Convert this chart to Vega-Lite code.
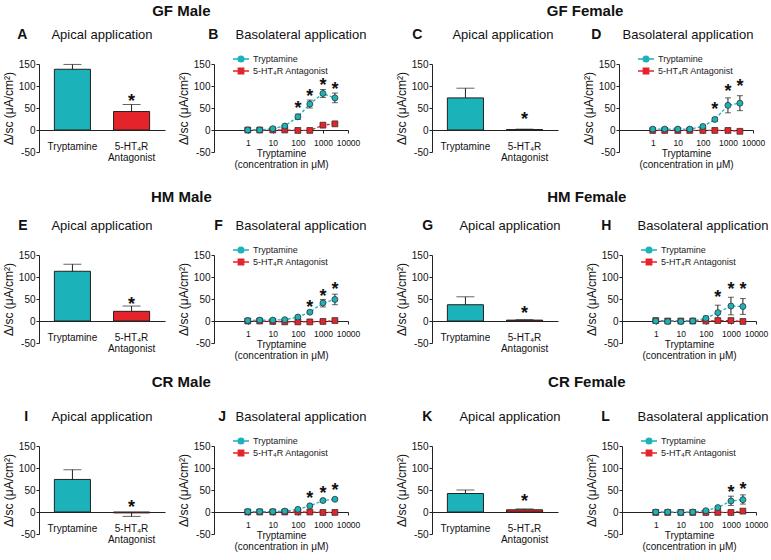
{
"$schema": "https://vega.github.io/schema/vega-lite/v6.json",
"padding": {"left": 2, "top": 4, "right": 0, "bottom": 0},
"config": {
 "font": "Liberation Sans",
 "view": {"stroke": null},
 "axis": {"grid": false, "domainColor": "#222", "tickColor": "#222", "labelColor": "#111", "titleColor": "#111", "labelFontSize": 10, "titleFontSize": 12, "titleFontWeight": "normal"},
 "axisY": {"labelOverlap": false, "labelSeparation": 0},
 "title": {"color": "#111"}
},
"datasets": {
 "bars": [
  {"panel": "A", "cat": "Tryptamine", "value": 138, "eb": 149, "sig": false},
  {"panel": "A", "cat": "5-HT₄R Antagonist", "value": 42, "eb": 58, "sig": true, "star": 74},
  {"panel": "C", "cat": "Tryptamine", "value": 73, "eb": 95, "sig": false},
  {"panel": "C", "cat": "5-HT₄R Antagonist", "value": 1, "eb": 2, "sig": true, "star": 35},
  {"panel": "E", "cat": "Tryptamine", "value": 113, "eb": 129, "sig": false},
  {"panel": "E", "cat": "5-HT₄R Antagonist", "value": 22, "eb": 34, "sig": true, "star": 47},
  {"panel": "G", "cat": "Tryptamine", "value": 37, "eb": 55, "sig": false},
  {"panel": "G", "cat": "5-HT₄R Antagonist", "value": 2, "eb": 3, "sig": true, "star": 27},
  {"panel": "I", "cat": "Tryptamine", "value": 74, "eb": 96, "sig": false},
  {"panel": "I", "cat": "5-HT₄R Antagonist", "value": -2, "eb": -10, "sig": true, "star": 20},
  {"panel": "K", "cat": "Tryptamine", "value": 42, "eb": 50, "sig": false},
  {"panel": "K", "cat": "5-HT₄R Antagonist", "value": 5, "eb": 7, "sig": true, "star": 35}
 ],
 "lines": [
  {"panel": "B", "series": "5-HT₄R Antagonist", "conc": 1, "value": 0, "lo": 0, "hi": 0},
  {"panel": "B", "series": "5-HT₄R Antagonist", "conc": 3, "value": 0, "lo": 0, "hi": 0},
  {"panel": "B", "series": "5-HT₄R Antagonist", "conc": 10, "value": 0, "lo": 0, "hi": 0},
  {"panel": "B", "series": "5-HT₄R Antagonist", "conc": 30, "value": 0, "lo": 0, "hi": 0},
  {"panel": "B", "series": "5-HT₄R Antagonist", "conc": 100, "value": -1, "lo": -1, "hi": -1},
  {"panel": "B", "series": "5-HT₄R Antagonist", "conc": 300, "value": -1, "lo": -1, "hi": -1},
  {"panel": "B", "series": "5-HT₄R Antagonist", "conc": 1000, "value": 11, "lo": 7, "hi": 15},
  {"panel": "B", "series": "5-HT₄R Antagonist", "conc": 3000, "value": 14, "lo": 10, "hi": 18},
  {"panel": "B", "series": "Tryptamine", "conc": 1, "value": 0, "lo": 0, "hi": 0},
  {"panel": "B", "series": "Tryptamine", "conc": 3, "value": 0, "lo": 0, "hi": 0},
  {"panel": "B", "series": "Tryptamine", "conc": 10, "value": 3, "lo": 3, "hi": 3},
  {"panel": "B", "series": "Tryptamine", "conc": 30, "value": 9, "lo": 9, "hi": 9},
  {"panel": "B", "series": "Tryptamine", "conc": 100, "value": 30, "lo": 24, "hi": 36, "sig": true, "star": 58},
  {"panel": "B", "series": "Tryptamine", "conc": 300, "value": 59, "lo": 50, "hi": 68, "sig": true, "star": 87},
  {"panel": "B", "series": "Tryptamine", "conc": 1000, "value": 83, "lo": 74, "hi": 92, "sig": true, "star": 111},
  {"panel": "B", "series": "Tryptamine", "conc": 3000, "value": 73, "lo": 62, "hi": 84, "sig": true, "star": 102},

  {"panel": "D", "series": "5-HT₄R Antagonist", "conc": 1, "value": -1, "lo": -1, "hi": -1},
  {"panel": "D", "series": "5-HT₄R Antagonist", "conc": 3, "value": -1, "lo": -1, "hi": -1},
  {"panel": "D", "series": "5-HT₄R Antagonist", "conc": 10, "value": -1, "lo": -1, "hi": -1},
  {"panel": "D", "series": "5-HT₄R Antagonist", "conc": 30, "value": -1, "lo": -1, "hi": -1},
  {"panel": "D", "series": "5-HT₄R Antagonist", "conc": 100, "value": -1, "lo": -1, "hi": -1},
  {"panel": "D", "series": "5-HT₄R Antagonist", "conc": 300, "value": -1, "lo": -1, "hi": -1},
  {"panel": "D", "series": "5-HT₄R Antagonist", "conc": 1000, "value": -1, "lo": -1, "hi": -1},
  {"panel": "D", "series": "5-HT₄R Antagonist", "conc": 3000, "value": -3, "lo": -3, "hi": -3},
  {"panel": "D", "series": "Tryptamine", "conc": 1, "value": 2, "lo": 2, "hi": 2},
  {"panel": "D", "series": "Tryptamine", "conc": 3, "value": 2, "lo": 2, "hi": 2},
  {"panel": "D", "series": "Tryptamine", "conc": 10, "value": 2, "lo": 2, "hi": 2},
  {"panel": "D", "series": "Tryptamine", "conc": 30, "value": 2, "lo": 2, "hi": 2},
  {"panel": "D", "series": "Tryptamine", "conc": 100, "value": 8, "lo": 5, "hi": 11},
  {"panel": "D", "series": "Tryptamine", "conc": 300, "value": 24, "lo": 20, "hi": 28, "sig": true, "star": 57},
  {"panel": "D", "series": "Tryptamine", "conc": 1000, "value": 56, "lo": 39, "hi": 73, "sig": true, "star": 98},
  {"panel": "D", "series": "Tryptamine", "conc": 3000, "value": 61, "lo": 44, "hi": 78, "sig": true, "star": 108},

  {"panel": "F", "series": "5-HT₄R Antagonist", "conc": 1, "value": 0, "lo": 0, "hi": 0},
  {"panel": "F", "series": "5-HT₄R Antagonist", "conc": 3, "value": 0, "lo": 0, "hi": 0},
  {"panel": "F", "series": "5-HT₄R Antagonist", "conc": 10, "value": -1, "lo": -1, "hi": -1},
  {"panel": "F", "series": "5-HT₄R Antagonist", "conc": 30, "value": -2, "lo": -2, "hi": -2},
  {"panel": "F", "series": "5-HT₄R Antagonist", "conc": 100, "value": -2, "lo": -2, "hi": -2},
  {"panel": "F", "series": "5-HT₄R Antagonist", "conc": 300, "value": -2, "lo": -2, "hi": -2},
  {"panel": "F", "series": "5-HT₄R Antagonist", "conc": 1000, "value": -1, "lo": -1, "hi": -1},
  {"panel": "F", "series": "5-HT₄R Antagonist", "conc": 3000, "value": 1, "lo": 1, "hi": 1},
  {"panel": "F", "series": "Tryptamine", "conc": 1, "value": 1, "lo": 1, "hi": 1},
  {"panel": "F", "series": "Tryptamine", "conc": 3, "value": 2, "lo": 2, "hi": 2},
  {"panel": "F", "series": "Tryptamine", "conc": 10, "value": 2, "lo": 2, "hi": 2},
  {"panel": "F", "series": "Tryptamine", "conc": 30, "value": 3, "lo": 3, "hi": 3},
  {"panel": "F", "series": "Tryptamine", "conc": 100, "value": 9, "lo": 9, "hi": 9},
  {"panel": "F", "series": "Tryptamine", "conc": 300, "value": 20, "lo": 17, "hi": 23, "sig": true, "star": 41},
  {"panel": "F", "series": "Tryptamine", "conc": 1000, "value": 41, "lo": 32, "hi": 49, "sig": true, "star": 65},
  {"panel": "F", "series": "Tryptamine", "conc": 3000, "value": 49, "lo": 37, "hi": 61, "sig": true, "star": 81},

  {"panel": "H", "series": "5-HT₄R Antagonist", "conc": 1, "value": 1, "lo": -2, "hi": 4},
  {"panel": "H", "series": "5-HT₄R Antagonist", "conc": 3, "value": 0, "lo": 0, "hi": 0},
  {"panel": "H", "series": "5-HT₄R Antagonist", "conc": 10, "value": 0, "lo": 0, "hi": 0},
  {"panel": "H", "series": "5-HT₄R Antagonist", "conc": 30, "value": 0, "lo": 0, "hi": 0},
  {"panel": "H", "series": "5-HT₄R Antagonist", "conc": 100, "value": 0, "lo": 0, "hi": 0},
  {"panel": "H", "series": "5-HT₄R Antagonist", "conc": 300, "value": 1, "lo": 1, "hi": 1},
  {"panel": "H", "series": "5-HT₄R Antagonist", "conc": 1000, "value": 1, "lo": 1, "hi": 1},
  {"panel": "H", "series": "5-HT₄R Antagonist", "conc": 3000, "value": -1, "lo": -1, "hi": -1},
  {"panel": "H", "series": "Tryptamine", "conc": 1, "value": 0, "lo": 0, "hi": 0},
  {"panel": "H", "series": "Tryptamine", "conc": 3, "value": -1, "lo": -1, "hi": -1},
  {"panel": "H", "series": "Tryptamine", "conc": 10, "value": -1, "lo": -1, "hi": -1},
  {"panel": "H", "series": "Tryptamine", "conc": 30, "value": 0, "lo": 0, "hi": 0},
  {"panel": "H", "series": "Tryptamine", "conc": 100, "value": 6, "lo": 1, "hi": 11},
  {"panel": "H", "series": "Tryptamine", "conc": 300, "value": 19, "lo": 2, "hi": 36, "sig": true, "star": 64},
  {"panel": "H", "series": "Tryptamine", "conc": 1000, "value": 34, "lo": 14, "hi": 54, "sig": true, "star": 81},
  {"panel": "H", "series": "Tryptamine", "conc": 3000, "value": 33, "lo": 15, "hi": 51, "sig": true, "star": 81},

  {"panel": "J", "series": "5-HT₄R Antagonist", "conc": 1, "value": 0, "lo": 0, "hi": 0},
  {"panel": "J", "series": "5-HT₄R Antagonist", "conc": 3, "value": 0, "lo": 0, "hi": 0},
  {"panel": "J", "series": "5-HT₄R Antagonist", "conc": 10, "value": 0, "lo": 0, "hi": 0},
  {"panel": "J", "series": "5-HT₄R Antagonist", "conc": 30, "value": 0, "lo": 0, "hi": 0},
  {"panel": "J", "series": "5-HT₄R Antagonist", "conc": 100, "value": 0, "lo": 0, "hi": 0},
  {"panel": "J", "series": "5-HT₄R Antagonist", "conc": 300, "value": 0, "lo": 0, "hi": 0},
  {"panel": "J", "series": "5-HT₄R Antagonist", "conc": 1000, "value": -1, "lo": -1, "hi": -1},
  {"panel": "J", "series": "5-HT₄R Antagonist", "conc": 3000, "value": -1, "lo": -1, "hi": -1},
  {"panel": "J", "series": "Tryptamine", "conc": 1, "value": 1, "lo": 1, "hi": 1},
  {"panel": "J", "series": "Tryptamine", "conc": 3, "value": 1, "lo": 1, "hi": 1},
  {"panel": "J", "series": "Tryptamine", "conc": 10, "value": 1, "lo": 1, "hi": 1},
  {"panel": "J", "series": "Tryptamine", "conc": 30, "value": 2, "lo": 2, "hi": 2},
  {"panel": "J", "series": "Tryptamine", "conc": 100, "value": 6, "lo": 6, "hi": 6},
  {"panel": "J", "series": "Tryptamine", "conc": 300, "value": 14, "lo": 12, "hi": 16, "sig": true, "star": 42},
  {"panel": "J", "series": "Tryptamine", "conc": 1000, "value": 26, "lo": 24, "hi": 28, "sig": true, "star": 52},
  {"panel": "J", "series": "Tryptamine", "conc": 3000, "value": 29, "lo": 27, "hi": 31, "sig": true, "star": 60},

  {"panel": "L", "series": "5-HT₄R Antagonist", "conc": 1, "value": -1, "lo": -1, "hi": -1},
  {"panel": "L", "series": "5-HT₄R Antagonist", "conc": 3, "value": -1, "lo": -1, "hi": -1},
  {"panel": "L", "series": "5-HT₄R Antagonist", "conc": 10, "value": -1, "lo": -1, "hi": -1},
  {"panel": "L", "series": "5-HT₄R Antagonist", "conc": 30, "value": -1, "lo": -1, "hi": -1},
  {"panel": "L", "series": "5-HT₄R Antagonist", "conc": 100, "value": -1, "lo": -1, "hi": -1},
  {"panel": "L", "series": "5-HT₄R Antagonist", "conc": 300, "value": -1, "lo": -1, "hi": -1},
  {"panel": "L", "series": "5-HT₄R Antagonist", "conc": 1000, "value": -1, "lo": -1, "hi": -1},
  {"panel": "L", "series": "5-HT₄R Antagonist", "conc": 3000, "value": 2, "lo": 2, "hi": 2},
  {"panel": "L", "series": "Tryptamine", "conc": 1, "value": 0, "lo": 0, "hi": 0},
  {"panel": "L", "series": "Tryptamine", "conc": 3, "value": 0, "lo": 0, "hi": 0},
  {"panel": "L", "series": "Tryptamine", "conc": 10, "value": -1, "lo": -1, "hi": -1},
  {"panel": "L", "series": "Tryptamine", "conc": 30, "value": 0, "lo": 0, "hi": 0},
  {"panel": "L", "series": "Tryptamine", "conc": 100, "value": 3, "lo": 3, "hi": 3},
  {"panel": "L", "series": "Tryptamine", "conc": 300, "value": 10, "lo": 8, "hi": 12},
  {"panel": "L", "series": "Tryptamine", "conc": 1000, "value": 25, "lo": 15, "hi": 36, "sig": true, "star": 55},
  {"panel": "L", "series": "Tryptamine", "conc": 3000, "value": 28, "lo": 18, "hi": 39, "sig": true, "star": 61}
 ]
},
"resolve": {"scale": {"x": "independent", "y": "independent", "color": "independent", "shape": "independent"}, "axis": {"x": "independent", "y": "independent"}, "legend": {"color": "independent", "shape": "independent"}},
"spacing": 20,
"vconcat": [
 {"spacing": 28, "resolve": {"scale": {"x": "independent", "y": "independent", "color": "independent", "shape": "independent"}, "axis": {"x": "independent", "y": "independent"}, "legend": {"color": "independent", "shape": "independent"}},
  "hconcat": [
  {"title": {"text": "GF Male", "fontSize": 15, "fontWeight": "bold", "anchor": "middle", "offset": 9, "dx": -3},
   "spacing": 12, "resolve": {"scale": {"x": "independent", "y": "independent", "color": "independent", "shape": "independent"}, "axis": {"x": "independent", "y": "independent"}, "legend": {"color": "independent", "shape": "independent"}},
   "hconcat": [
    {"title": {"text": "A", "fontSize": 14, "fontWeight": "bold", "anchor": "start", "frame": "bounds", "offset": 0, "dy": 13, "dx": 15},
     "resolve": {"scale": {"x": "independent", "y": "independent", "color": "independent", "shape": "independent"}, "axis": {"x": "independent", "y": "independent"}, "legend": {"color": "independent", "shape": "independent"}},
     "hconcat": [
      {"title": {"text": "Apical application", "fontSize": 13, "fontWeight": "normal", "anchor": "middle", "frame": "group", "offset": 17, "dx": 0},
       "width": 126, "height": 88,
       "data": {"name": "bars"},
       "transform": [{"filter": "datum.panel === 'A'"}],
       "encoding": {"x": {"field": "cat", "type": "nominal", "scale": {"domain": ["Tryptamine", "5-HT₄R Antagonist"], "paddingInner": 0.39, "paddingOuter": 0.26}, "axis": {"title": null, "labelAngle": 0, "ticks": false, "offset": -22, "labelPadding": 11, "labelLineHeight": 11.5, "labelExpr": "datum.value === 'Tryptamine' ? 'Tryptamine' : ['5-HT₄R', 'Antagonist']"}}},
       "layer": [
        {"mark": {"type": "bar", "stroke": "#222", "strokeWidth": 1}, "encoding": {"y": {"field": "value", "type": "quantitative", "title": "Δ/sc (μA/cm²)", "scale": {"domain": [-50, 150], "nice": false, "zero": false}, "axis": {"values": [-50, 0, 50, 100, 150], "tickSize": 3, "labelPadding": 1, "titlePadding": 3, "labelOverlap": false, "labelExpr": "toString(datum.value)"}}, "color": {"field": "cat", "type": "nominal", "scale": {"domain": ["Tryptamine", "5-HT₄R Antagonist"], "range": ["#1bb3b9", "#e5232a"]}, "legend": null}}},
        {"mark": {"type": "rule", "color": "#222", "strokeWidth": 1}, "encoding": {"y": {"field": "value", "type": "quantitative", "title": "Δ/sc (μA/cm²)", "axis": {"values": [-50, 0, 50, 100, 150], "tickSize": 3, "labelPadding": 1, "titlePadding": 3, "labelOverlap": false, "labelExpr": "toString(datum.value)"}}, "y2": {"field": "eb"}}},
        {"mark": {"type": "tick", "orient": "horizontal", "color": "#222", "size": 18, "thickness": 1}, "encoding": {"y": {"field": "eb", "type": "quantitative", "title": "Δ/sc (μA/cm²)", "axis": {"values": [-50, 0, 50, 100, 150], "tickSize": 3, "labelPadding": 1, "titlePadding": 3, "labelOverlap": false, "labelExpr": "toString(datum.value)"}}}},
        {"transform": [{"filter": "datum.sig"}], "mark": {"type": "text", "text": "*", "fontSize": 18, "fontWeight": "bold", "baseline": "alphabetic", "dy": 10, "color": "#111"}, "encoding": {"y": {"field": "star", "type": "quantitative", "title": "Δ/sc (μA/cm²)", "axis": {"values": [-50, 0, 50, 100, 150], "tickSize": 3, "labelPadding": 1, "titlePadding": 3, "labelOverlap": false, "labelExpr": "toString(datum.value)"}}}}
       ]}
     ]},
    {"title": {"text": "B", "fontSize": 14, "fontWeight": "bold", "anchor": "start", "frame": "bounds", "offset": 0, "dy": 13, "dx": 31},
     "resolve": {"scale": {"x": "independent", "y": "independent", "color": "independent", "shape": "independent"}, "axis": {"x": "independent", "y": "independent"}, "legend": {"color": "independent", "shape": "independent"}},
     "hconcat": [
      {"title": {"text": "Basolateral application", "fontSize": 13, "fontWeight": "normal", "anchor": "middle", "frame": "group", "offset": 11, "dx": 20},
       "width": 134, "height": 88,
       "data": {"name": "lines"},
       "transform": [{"filter": "datum.panel === 'B'"}],
       "encoding": {"x": {"field": "conc", "type": "quantitative", "scale": {"type": "log", "domain": [0.045, 10000], "nice": false}, "axis": {"title": ["Tryptamine", "(concentration in μM)"], "values": [1, 10, 100, 1000, 10000], "labelExpr": "toString(datum.value)", "offset": -22, "tickSize": 3, "labelPadding": 5, "labelFontSize": 8.5, "titlePadding": 2, "titleFontSize": 10, "titleLineHeight": 11, "labelFlush": false, "labelOverlap": false}}},
       "layer": [
        {"mark": {"type": "line", "strokeDash": [3, 2], "strokeWidth": 1.3}, "encoding": {"y": {"field": "value", "type": "quantitative", "title": "Δ/sc (μA/cm²)", "scale": {"domain": [-50, 150], "nice": false, "zero": false}, "axis": {"values": [-50, 0, 50, 100, 150], "tickSize": 3, "labelPadding": 1, "titlePadding": 3, "labelOverlap": false, "labelExpr": "toString(datum.value)"}}, "color": {"field": "series", "type": "nominal", "scale": {"domain": ["Tryptamine", "5-HT₄R Antagonist"], "range": ["#1bb3b9", "#e5232a"]}, "legend": {"orient": "none", "legendX": 21, "legendY": -11, "title": null, "padding": 0, "labelFontSize": 9, "labelColor": "#222", "labelOffset": 6, "rowPadding": 0, "symbolSize": 100, "symbolStrokeWidth": 1.3}}}},
        {"mark": {"type": "rule", "color": "#222", "strokeWidth": 1}, "encoding": {"y": {"field": "lo", "type": "quantitative", "title": "Δ/sc (μA/cm²)", "axis": {"values": [-50, 0, 50, 100, 150], "tickSize": 3, "labelPadding": 1, "titlePadding": 3, "labelOverlap": false, "labelExpr": "toString(datum.value)"}}, "y2": {"field": "hi"}}},
        {"mark": {"type": "tick", "orient": "horizontal", "color": "#222", "size": 6, "thickness": 1}, "encoding": {"y": {"field": "lo", "type": "quantitative", "title": "Δ/sc (μA/cm²)", "axis": {"values": [-50, 0, 50, 100, 150], "tickSize": 3, "labelPadding": 1, "titlePadding": 3, "labelOverlap": false, "labelExpr": "toString(datum.value)"}}}},
        {"mark": {"type": "tick", "orient": "horizontal", "color": "#222", "size": 6, "thickness": 1}, "encoding": {"y": {"field": "hi", "type": "quantitative", "title": "Δ/sc (μA/cm²)", "axis": {"values": [-50, 0, 50, 100, 150], "tickSize": 3, "labelPadding": 1, "titlePadding": 3, "labelOverlap": false, "labelExpr": "toString(datum.value)"}}}},
        {"transform": [{"filter": "datum.series !== 'Tryptamine'"}], "mark": {"type": "point", "shape": "square", "filled": true, "size": 34, "stroke": "#333", "strokeWidth": 0.8, "opacity": 1}, "encoding": {"y": {"field": "value", "type": "quantitative", "title": "Δ/sc (μA/cm²)", "axis": {"values": [-50, 0, 50, 100, 150], "tickSize": 3, "labelPadding": 1, "titlePadding": 3, "labelOverlap": false, "labelExpr": "toString(datum.value)"}}, "color": {"field": "series", "type": "nominal", "scale": {"domain": ["Tryptamine", "5-HT₄R Antagonist"], "range": ["#1bb3b9", "#e5232a"]}, "legend": {"orient": "none", "legendX": 21, "legendY": -11, "title": null, "padding": 0, "labelFontSize": 9, "labelColor": "#222", "labelOffset": 6, "rowPadding": 0, "symbolSize": 100, "symbolStrokeWidth": 1.3}}}},
        {"transform": [{"filter": "datum.series === 'Tryptamine'"}], "mark": {"type": "point", "shape": "circle", "filled": true, "size": 36, "stroke": "#333", "strokeWidth": 0.8, "opacity": 1}, "encoding": {"y": {"field": "value", "type": "quantitative", "title": "Δ/sc (μA/cm²)", "axis": {"values": [-50, 0, 50, 100, 150], "tickSize": 3, "labelPadding": 1, "titlePadding": 3, "labelOverlap": false, "labelExpr": "toString(datum.value)"}}, "color": {"field": "series", "type": "nominal", "scale": {"domain": ["Tryptamine", "5-HT₄R Antagonist"], "range": ["#1bb3b9", "#e5232a"]}, "legend": {"orient": "none", "legendX": 21, "legendY": -11, "title": null, "padding": 0, "labelFontSize": 9, "labelColor": "#222", "labelOffset": 6, "rowPadding": 0, "symbolSize": 100, "symbolStrokeWidth": 1.3}}}},
        {"transform": [{"filter": "false"}], "mark": {"type": "point", "filled": true, "opacity": 1}, "encoding": {"y": {"field": "value", "type": "quantitative", "title": "Δ/sc (μA/cm²)", "axis": {"values": [-50, 0, 50, 100, 150], "tickSize": 3, "labelPadding": 1, "titlePadding": 3, "labelOverlap": false, "labelExpr": "toString(datum.value)"}}, "color": {"field": "series", "type": "nominal", "scale": {"domain": ["Tryptamine", "5-HT₄R Antagonist"], "range": ["#1bb3b9", "#e5232a"]}, "legend": {"orient": "none", "legendX": 21, "legendY": -11, "title": null, "padding": 0, "labelFontSize": 9, "labelColor": "#222", "labelOffset": 6, "rowPadding": 0, "symbolSize": 100, "symbolStrokeWidth": 1.3}}, "shape": {"field": "series", "type": "nominal", "scale": {"domain": ["Tryptamine", "5-HT₄R Antagonist"], "range": ["M-1.6,0H-0.58M0.58,0H1.6M-0.58,0A0.58,0.58,0,1,1,0.58,0A0.58,0.58,0,1,1,-0.58,0Z", "M-1.6,0H-0.55M0.55,0H1.6M-0.55,-0.55H0.55V0.55H-0.55Z"]}, "legend": {"orient": "none", "legendX": 21, "legendY": -11, "title": null, "padding": 0, "labelFontSize": 9, "labelColor": "#222", "labelOffset": 6, "rowPadding": 0, "symbolSize": 100, "symbolStrokeWidth": 1.3}}}},
        {"transform": [{"filter": "datum.sig"}], "mark": {"type": "text", "text": "*", "fontSize": 18, "fontWeight": "bold", "baseline": "alphabetic", "dy": 10, "color": "#111"}, "encoding": {"y": {"field": "star", "type": "quantitative", "title": "Δ/sc (μA/cm²)", "axis": {"values": [-50, 0, 50, 100, 150], "tickSize": 3, "labelPadding": 1, "titlePadding": 3, "labelOverlap": false, "labelExpr": "toString(datum.value)"}}}}
       ]}
     ]}
   ]},
  {"title": {"text": "GF Female", "fontSize": 15, "fontWeight": "bold", "anchor": "middle", "offset": 9, "dx": 5},
   "spacing": 24, "resolve": {"scale": {"x": "independent", "y": "independent", "color": "independent", "shape": "independent"}, "axis": {"x": "independent", "y": "independent"}, "legend": {"color": "independent", "shape": "independent"}},
   "hconcat": [
    {"title": {"text": "C", "fontSize": 14, "fontWeight": "bold", "anchor": "start", "frame": "bounds", "offset": 0, "dy": 13, "dx": 17},
     "resolve": {"scale": {"x": "independent", "y": "independent", "color": "independent", "shape": "independent"}, "axis": {"x": "independent", "y": "independent"}, "legend": {"color": "independent", "shape": "independent"}},
     "hconcat": [
      {"title": {"text": "Apical application", "fontSize": 13, "fontWeight": "normal", "anchor": "middle", "frame": "group", "offset": 17, "dx": 8},
       "width": 126, "height": 88,
       "data": {"name": "bars"},
       "transform": [{"filter": "datum.panel === 'C'"}],
       "encoding": {"x": {"field": "cat", "type": "nominal", "scale": {"domain": ["Tryptamine", "5-HT₄R Antagonist"], "paddingInner": 0.39, "paddingOuter": 0.26}, "axis": {"title": null, "labelAngle": 0, "ticks": false, "offset": -22, "labelPadding": 11, "labelLineHeight": 11.5, "labelExpr": "datum.value === 'Tryptamine' ? 'Tryptamine' : ['5-HT₄R', 'Antagonist']"}}},
       "layer": [
        {"mark": {"type": "bar", "stroke": "#222", "strokeWidth": 1}, "encoding": {"y": {"field": "value", "type": "quantitative", "title": "Δ/sc (μA/cm²)", "scale": {"domain": [-50, 150], "nice": false, "zero": false}, "axis": {"values": [-50, 0, 50, 100, 150], "tickSize": 3, "labelPadding": 1, "titlePadding": 3, "labelOverlap": false, "labelExpr": "toString(datum.value)"}}, "color": {"field": "cat", "type": "nominal", "scale": {"domain": ["Tryptamine", "5-HT₄R Antagonist"], "range": ["#1bb3b9", "#e5232a"]}, "legend": null}}},
        {"mark": {"type": "rule", "color": "#222", "strokeWidth": 1}, "encoding": {"y": {"field": "value", "type": "quantitative", "title": "Δ/sc (μA/cm²)", "axis": {"values": [-50, 0, 50, 100, 150], "tickSize": 3, "labelPadding": 1, "titlePadding": 3, "labelOverlap": false, "labelExpr": "toString(datum.value)"}}, "y2": {"field": "eb"}}},
        {"mark": {"type": "tick", "orient": "horizontal", "color": "#222", "size": 18, "thickness": 1}, "encoding": {"y": {"field": "eb", "type": "quantitative", "title": "Δ/sc (μA/cm²)", "axis": {"values": [-50, 0, 50, 100, 150], "tickSize": 3, "labelPadding": 1, "titlePadding": 3, "labelOverlap": false, "labelExpr": "toString(datum.value)"}}}},
        {"transform": [{"filter": "datum.sig"}], "mark": {"type": "text", "text": "*", "fontSize": 18, "fontWeight": "bold", "baseline": "alphabetic", "dy": 10, "color": "#111"}, "encoding": {"y": {"field": "star", "type": "quantitative", "title": "Δ/sc (μA/cm²)", "axis": {"values": [-50, 0, 50, 100, 150], "tickSize": 3, "labelPadding": 1, "titlePadding": 3, "labelOverlap": false, "labelExpr": "toString(datum.value)"}}}}
       ]}
     ]},
    {"title": {"text": "D", "fontSize": 14, "fontWeight": "bold", "anchor": "start", "frame": "bounds", "offset": 0, "dy": 13, "dx": 9},
     "resolve": {"scale": {"x": "independent", "y": "independent", "color": "independent", "shape": "independent"}, "axis": {"x": "independent", "y": "independent"}, "legend": {"color": "independent", "shape": "independent"}},
     "hconcat": [
      {"title": {"text": "Basolateral application", "fontSize": 13, "fontWeight": "normal", "anchor": "middle", "frame": "group", "offset": 11, "dx": 2},
       "width": 134, "height": 88,
       "data": {"name": "lines"},
       "transform": [{"filter": "datum.panel === 'D'"}],
       "encoding": {"x": {"field": "conc", "type": "quantitative", "scale": {"type": "log", "domain": [0.045, 10000], "nice": false}, "axis": {"title": ["Tryptamine", "(concentration in μM)"], "values": [1, 10, 100, 1000, 10000], "labelExpr": "toString(datum.value)", "offset": -22, "tickSize": 3, "labelPadding": 5, "labelFontSize": 8.5, "titlePadding": 2, "titleFontSize": 10, "titleLineHeight": 11, "labelFlush": false, "labelOverlap": false}}},
       "layer": [
        {"mark": {"type": "line", "strokeDash": [3, 2], "strokeWidth": 1.3}, "encoding": {"y": {"field": "value", "type": "quantitative", "title": "Δ/sc (μA/cm²)", "scale": {"domain": [-50, 150], "nice": false, "zero": false}, "axis": {"values": [-50, 0, 50, 100, 150], "tickSize": 3, "labelPadding": 1, "titlePadding": 3, "labelOverlap": false, "labelExpr": "toString(datum.value)"}}, "color": {"field": "series", "type": "nominal", "scale": {"domain": ["Tryptamine", "5-HT₄R Antagonist"], "range": ["#1bb3b9", "#e5232a"]}, "legend": {"orient": "none", "legendX": 21, "legendY": -11, "title": null, "padding": 0, "labelFontSize": 9, "labelColor": "#222", "labelOffset": 6, "rowPadding": 0, "symbolSize": 100, "symbolStrokeWidth": 1.3}}}},
        {"mark": {"type": "rule", "color": "#222", "strokeWidth": 1}, "encoding": {"y": {"field": "lo", "type": "quantitative", "title": "Δ/sc (μA/cm²)", "axis": {"values": [-50, 0, 50, 100, 150], "tickSize": 3, "labelPadding": 1, "titlePadding": 3, "labelOverlap": false, "labelExpr": "toString(datum.value)"}}, "y2": {"field": "hi"}}},
        {"mark": {"type": "tick", "orient": "horizontal", "color": "#222", "size": 6, "thickness": 1}, "encoding": {"y": {"field": "lo", "type": "quantitative", "title": "Δ/sc (μA/cm²)", "axis": {"values": [-50, 0, 50, 100, 150], "tickSize": 3, "labelPadding": 1, "titlePadding": 3, "labelOverlap": false, "labelExpr": "toString(datum.value)"}}}},
        {"mark": {"type": "tick", "orient": "horizontal", "color": "#222", "size": 6, "thickness": 1}, "encoding": {"y": {"field": "hi", "type": "quantitative", "title": "Δ/sc (μA/cm²)", "axis": {"values": [-50, 0, 50, 100, 150], "tickSize": 3, "labelPadding": 1, "titlePadding": 3, "labelOverlap": false, "labelExpr": "toString(datum.value)"}}}},
        {"transform": [{"filter": "datum.series !== 'Tryptamine'"}], "mark": {"type": "point", "shape": "square", "filled": true, "size": 34, "stroke": "#333", "strokeWidth": 0.8, "opacity": 1}, "encoding": {"y": {"field": "value", "type": "quantitative", "title": "Δ/sc (μA/cm²)", "axis": {"values": [-50, 0, 50, 100, 150], "tickSize": 3, "labelPadding": 1, "titlePadding": 3, "labelOverlap": false, "labelExpr": "toString(datum.value)"}}, "color": {"field": "series", "type": "nominal", "scale": {"domain": ["Tryptamine", "5-HT₄R Antagonist"], "range": ["#1bb3b9", "#e5232a"]}, "legend": {"orient": "none", "legendX": 21, "legendY": -11, "title": null, "padding": 0, "labelFontSize": 9, "labelColor": "#222", "labelOffset": 6, "rowPadding": 0, "symbolSize": 100, "symbolStrokeWidth": 1.3}}}},
        {"transform": [{"filter": "datum.series === 'Tryptamine'"}], "mark": {"type": "point", "shape": "circle", "filled": true, "size": 36, "stroke": "#333", "strokeWidth": 0.8, "opacity": 1}, "encoding": {"y": {"field": "value", "type": "quantitative", "title": "Δ/sc (μA/cm²)", "axis": {"values": [-50, 0, 50, 100, 150], "tickSize": 3, "labelPadding": 1, "titlePadding": 3, "labelOverlap": false, "labelExpr": "toString(datum.value)"}}, "color": {"field": "series", "type": "nominal", "scale": {"domain": ["Tryptamine", "5-HT₄R Antagonist"], "range": ["#1bb3b9", "#e5232a"]}, "legend": {"orient": "none", "legendX": 21, "legendY": -11, "title": null, "padding": 0, "labelFontSize": 9, "labelColor": "#222", "labelOffset": 6, "rowPadding": 0, "symbolSize": 100, "symbolStrokeWidth": 1.3}}}},
        {"transform": [{"filter": "false"}], "mark": {"type": "point", "filled": true, "opacity": 1}, "encoding": {"y": {"field": "value", "type": "quantitative", "title": "Δ/sc (μA/cm²)", "axis": {"values": [-50, 0, 50, 100, 150], "tickSize": 3, "labelPadding": 1, "titlePadding": 3, "labelOverlap": false, "labelExpr": "toString(datum.value)"}}, "color": {"field": "series", "type": "nominal", "scale": {"domain": ["Tryptamine", "5-HT₄R Antagonist"], "range": ["#1bb3b9", "#e5232a"]}, "legend": {"orient": "none", "legendX": 21, "legendY": -11, "title": null, "padding": 0, "labelFontSize": 9, "labelColor": "#222", "labelOffset": 6, "rowPadding": 0, "symbolSize": 100, "symbolStrokeWidth": 1.3}}, "shape": {"field": "series", "type": "nominal", "scale": {"domain": ["Tryptamine", "5-HT₄R Antagonist"], "range": ["M-1.6,0H-0.58M0.58,0H1.6M-0.58,0A0.58,0.58,0,1,1,0.58,0A0.58,0.58,0,1,1,-0.58,0Z", "M-1.6,0H-0.55M0.55,0H1.6M-0.55,-0.55H0.55V0.55H-0.55Z"]}, "legend": {"orient": "none", "legendX": 21, "legendY": -11, "title": null, "padding": 0, "labelFontSize": 9, "labelColor": "#222", "labelOffset": 6, "rowPadding": 0, "symbolSize": 100, "symbolStrokeWidth": 1.3}}}},
        {"transform": [{"filter": "datum.sig"}], "mark": {"type": "text", "text": "*", "fontSize": 18, "fontWeight": "bold", "baseline": "alphabetic", "dy": 10, "color": "#111"}, "encoding": {"y": {"field": "star", "type": "quantitative", "title": "Δ/sc (μA/cm²)", "axis": {"values": [-50, 0, 50, 100, 150], "tickSize": 3, "labelPadding": 1, "titlePadding": 3, "labelOverlap": false, "labelExpr": "toString(datum.value)"}}}}
       ]}
     ]}
   ]}
 ]},
 {"spacing": 14, "resolve": {"scale": {"x": "independent", "y": "independent", "color": "independent", "shape": "independent"}, "axis": {"x": "independent", "y": "independent"}, "legend": {"color": "independent", "shape": "independent"}},
  "vconcat": [
 {"spacing": 28, "resolve": {"scale": {"x": "independent", "y": "independent", "color": "independent", "shape": "independent"}, "axis": {"x": "independent", "y": "independent"}, "legend": {"color": "independent", "shape": "independent"}},
  "hconcat": [
  {"title": {"text": "HM Male", "fontSize": 15, "fontWeight": "bold", "anchor": "middle", "offset": 14, "dx": -3},
   "spacing": 12, "resolve": {"scale": {"x": "independent", "y": "independent", "color": "independent", "shape": "independent"}, "axis": {"x": "independent", "y": "independent"}, "legend": {"color": "independent", "shape": "independent"}},
   "hconcat": [
    {"title": {"text": "E", "fontSize": 14, "fontWeight": "bold", "anchor": "start", "frame": "bounds", "offset": 0, "dy": 13, "dx": 16},
     "resolve": {"scale": {"x": "independent", "y": "independent", "color": "independent", "shape": "independent"}, "axis": {"x": "independent", "y": "independent"}, "legend": {"color": "independent", "shape": "independent"}},
     "hconcat": [
      {"title": {"text": "Apical application", "fontSize": 13, "fontWeight": "normal", "anchor": "middle", "frame": "group", "offset": 17, "dx": 0},
       "width": 126, "height": 88,
       "data": {"name": "bars"},
       "transform": [{"filter": "datum.panel === 'E'"}],
       "encoding": {"x": {"field": "cat", "type": "nominal", "scale": {"domain": ["Tryptamine", "5-HT₄R Antagonist"], "paddingInner": 0.39, "paddingOuter": 0.26}, "axis": {"title": null, "labelAngle": 0, "ticks": false, "offset": -22, "labelPadding": 11, "labelLineHeight": 11.5, "labelExpr": "datum.value === 'Tryptamine' ? 'Tryptamine' : ['5-HT₄R', 'Antagonist']"}}},
       "layer": [
        {"mark": {"type": "bar", "stroke": "#222", "strokeWidth": 1}, "encoding": {"y": {"field": "value", "type": "quantitative", "title": "Δ/sc (μA/cm²)", "scale": {"domain": [-50, 150], "nice": false, "zero": false}, "axis": {"values": [-50, 0, 50, 100, 150], "tickSize": 3, "labelPadding": 1, "titlePadding": 3, "labelOverlap": false, "labelExpr": "toString(datum.value)"}}, "color": {"field": "cat", "type": "nominal", "scale": {"domain": ["Tryptamine", "5-HT₄R Antagonist"], "range": ["#1bb3b9", "#e5232a"]}, "legend": null}}},
        {"mark": {"type": "rule", "color": "#222", "strokeWidth": 1}, "encoding": {"y": {"field": "value", "type": "quantitative", "title": "Δ/sc (μA/cm²)", "axis": {"values": [-50, 0, 50, 100, 150], "tickSize": 3, "labelPadding": 1, "titlePadding": 3, "labelOverlap": false, "labelExpr": "toString(datum.value)"}}, "y2": {"field": "eb"}}},
        {"mark": {"type": "tick", "orient": "horizontal", "color": "#222", "size": 18, "thickness": 1}, "encoding": {"y": {"field": "eb", "type": "quantitative", "title": "Δ/sc (μA/cm²)", "axis": {"values": [-50, 0, 50, 100, 150], "tickSize": 3, "labelPadding": 1, "titlePadding": 3, "labelOverlap": false, "labelExpr": "toString(datum.value)"}}}},
        {"transform": [{"filter": "datum.sig"}], "mark": {"type": "text", "text": "*", "fontSize": 18, "fontWeight": "bold", "baseline": "alphabetic", "dy": 10, "color": "#111"}, "encoding": {"y": {"field": "star", "type": "quantitative", "title": "Δ/sc (μA/cm²)", "axis": {"values": [-50, 0, 50, 100, 150], "tickSize": 3, "labelPadding": 1, "titlePadding": 3, "labelOverlap": false, "labelExpr": "toString(datum.value)"}}}}
       ]}
     ]},
    {"title": {"text": "F", "fontSize": 14, "fontWeight": "bold", "anchor": "start", "frame": "bounds", "offset": 0, "dy": 13, "dx": 37},
     "resolve": {"scale": {"x": "independent", "y": "independent", "color": "independent", "shape": "independent"}, "axis": {"x": "independent", "y": "independent"}, "legend": {"color": "independent", "shape": "independent"}},
     "hconcat": [
      {"title": {"text": "Basolateral application", "fontSize": 13, "fontWeight": "normal", "anchor": "middle", "frame": "group", "offset": 11, "dx": 20},
       "width": 134, "height": 88,
       "data": {"name": "lines"},
       "transform": [{"filter": "datum.panel === 'F'"}],
       "encoding": {"x": {"field": "conc", "type": "quantitative", "scale": {"type": "log", "domain": [0.045, 10000], "nice": false}, "axis": {"title": ["Tryptamine", "(concentration in μM)"], "values": [1, 10, 100, 1000, 10000], "labelExpr": "toString(datum.value)", "offset": -22, "tickSize": 3, "labelPadding": 5, "labelFontSize": 8.5, "titlePadding": 2, "titleFontSize": 10, "titleLineHeight": 11, "labelFlush": false, "labelOverlap": false}}},
       "layer": [
        {"mark": {"type": "line", "strokeDash": [3, 2], "strokeWidth": 1.3}, "encoding": {"y": {"field": "value", "type": "quantitative", "title": "Δ/sc (μA/cm²)", "scale": {"domain": [-50, 150], "nice": false, "zero": false}, "axis": {"values": [-50, 0, 50, 100, 150], "tickSize": 3, "labelPadding": 1, "titlePadding": 3, "labelOverlap": false, "labelExpr": "toString(datum.value)"}}, "color": {"field": "series", "type": "nominal", "scale": {"domain": ["Tryptamine", "5-HT₄R Antagonist"], "range": ["#1bb3b9", "#e5232a"]}, "legend": {"orient": "none", "legendX": 21, "legendY": -11, "title": null, "padding": 0, "labelFontSize": 9, "labelColor": "#222", "labelOffset": 6, "rowPadding": 0, "symbolSize": 100, "symbolStrokeWidth": 1.3}}}},
        {"mark": {"type": "rule", "color": "#222", "strokeWidth": 1}, "encoding": {"y": {"field": "lo", "type": "quantitative", "title": "Δ/sc (μA/cm²)", "axis": {"values": [-50, 0, 50, 100, 150], "tickSize": 3, "labelPadding": 1, "titlePadding": 3, "labelOverlap": false, "labelExpr": "toString(datum.value)"}}, "y2": {"field": "hi"}}},
        {"mark": {"type": "tick", "orient": "horizontal", "color": "#222", "size": 6, "thickness": 1}, "encoding": {"y": {"field": "lo", "type": "quantitative", "title": "Δ/sc (μA/cm²)", "axis": {"values": [-50, 0, 50, 100, 150], "tickSize": 3, "labelPadding": 1, "titlePadding": 3, "labelOverlap": false, "labelExpr": "toString(datum.value)"}}}},
        {"mark": {"type": "tick", "orient": "horizontal", "color": "#222", "size": 6, "thickness": 1}, "encoding": {"y": {"field": "hi", "type": "quantitative", "title": "Δ/sc (μA/cm²)", "axis": {"values": [-50, 0, 50, 100, 150], "tickSize": 3, "labelPadding": 1, "titlePadding": 3, "labelOverlap": false, "labelExpr": "toString(datum.value)"}}}},
        {"transform": [{"filter": "datum.series !== 'Tryptamine'"}], "mark": {"type": "point", "shape": "square", "filled": true, "size": 34, "stroke": "#333", "strokeWidth": 0.8, "opacity": 1}, "encoding": {"y": {"field": "value", "type": "quantitative", "title": "Δ/sc (μA/cm²)", "axis": {"values": [-50, 0, 50, 100, 150], "tickSize": 3, "labelPadding": 1, "titlePadding": 3, "labelOverlap": false, "labelExpr": "toString(datum.value)"}}, "color": {"field": "series", "type": "nominal", "scale": {"domain": ["Tryptamine", "5-HT₄R Antagonist"], "range": ["#1bb3b9", "#e5232a"]}, "legend": {"orient": "none", "legendX": 21, "legendY": -11, "title": null, "padding": 0, "labelFontSize": 9, "labelColor": "#222", "labelOffset": 6, "rowPadding": 0, "symbolSize": 100, "symbolStrokeWidth": 1.3}}}},
        {"transform": [{"filter": "datum.series === 'Tryptamine'"}], "mark": {"type": "point", "shape": "circle", "filled": true, "size": 36, "stroke": "#333", "strokeWidth": 0.8, "opacity": 1}, "encoding": {"y": {"field": "value", "type": "quantitative", "title": "Δ/sc (μA/cm²)", "axis": {"values": [-50, 0, 50, 100, 150], "tickSize": 3, "labelPadding": 1, "titlePadding": 3, "labelOverlap": false, "labelExpr": "toString(datum.value)"}}, "color": {"field": "series", "type": "nominal", "scale": {"domain": ["Tryptamine", "5-HT₄R Antagonist"], "range": ["#1bb3b9", "#e5232a"]}, "legend": {"orient": "none", "legendX": 21, "legendY": -11, "title": null, "padding": 0, "labelFontSize": 9, "labelColor": "#222", "labelOffset": 6, "rowPadding": 0, "symbolSize": 100, "symbolStrokeWidth": 1.3}}}},
        {"transform": [{"filter": "false"}], "mark": {"type": "point", "filled": true, "opacity": 1}, "encoding": {"y": {"field": "value", "type": "quantitative", "title": "Δ/sc (μA/cm²)", "axis": {"values": [-50, 0, 50, 100, 150], "tickSize": 3, "labelPadding": 1, "titlePadding": 3, "labelOverlap": false, "labelExpr": "toString(datum.value)"}}, "color": {"field": "series", "type": "nominal", "scale": {"domain": ["Tryptamine", "5-HT₄R Antagonist"], "range": ["#1bb3b9", "#e5232a"]}, "legend": {"orient": "none", "legendX": 21, "legendY": -11, "title": null, "padding": 0, "labelFontSize": 9, "labelColor": "#222", "labelOffset": 6, "rowPadding": 0, "symbolSize": 100, "symbolStrokeWidth": 1.3}}, "shape": {"field": "series", "type": "nominal", "scale": {"domain": ["Tryptamine", "5-HT₄R Antagonist"], "range": ["M-1.6,0H-0.58M0.58,0H1.6M-0.58,0A0.58,0.58,0,1,1,0.58,0A0.58,0.58,0,1,1,-0.58,0Z", "M-1.6,0H-0.55M0.55,0H1.6M-0.55,-0.55H0.55V0.55H-0.55Z"]}, "legend": {"orient": "none", "legendX": 21, "legendY": -11, "title": null, "padding": 0, "labelFontSize": 9, "labelColor": "#222", "labelOffset": 6, "rowPadding": 0, "symbolSize": 100, "symbolStrokeWidth": 1.3}}}},
        {"transform": [{"filter": "datum.sig"}], "mark": {"type": "text", "text": "*", "fontSize": 18, "fontWeight": "bold", "baseline": "alphabetic", "dy": 10, "color": "#111"}, "encoding": {"y": {"field": "star", "type": "quantitative", "title": "Δ/sc (μA/cm²)", "axis": {"values": [-50, 0, 50, 100, 150], "tickSize": 3, "labelPadding": 1, "titlePadding": 3, "labelOverlap": false, "labelExpr": "toString(datum.value)"}}}}
       ]}
     ]}
   ]},
  {"title": {"text": "HM Female", "fontSize": 15, "fontWeight": "bold", "anchor": "middle", "offset": 14, "dx": 5},
   "spacing": 24, "resolve": {"scale": {"x": "independent", "y": "independent", "color": "independent", "shape": "independent"}, "axis": {"x": "independent", "y": "independent"}, "legend": {"color": "independent", "shape": "independent"}},
   "hconcat": [
    {"title": {"text": "G", "fontSize": 14, "fontWeight": "bold", "anchor": "start", "frame": "bounds", "offset": 0, "dy": 13, "dx": 27},
     "resolve": {"scale": {"x": "independent", "y": "independent", "color": "independent", "shape": "independent"}, "axis": {"x": "independent", "y": "independent"}, "legend": {"color": "independent", "shape": "independent"}},
     "hconcat": [
      {"title": {"text": "Apical application", "fontSize": 13, "fontWeight": "normal", "anchor": "middle", "frame": "group", "offset": 17, "dx": 15},
       "width": 126, "height": 88,
       "data": {"name": "bars"},
       "transform": [{"filter": "datum.panel === 'G'"}],
       "encoding": {"x": {"field": "cat", "type": "nominal", "scale": {"domain": ["Tryptamine", "5-HT₄R Antagonist"], "paddingInner": 0.39, "paddingOuter": 0.26}, "axis": {"title": null, "labelAngle": 0, "ticks": false, "offset": -22, "labelPadding": 11, "labelLineHeight": 11.5, "labelExpr": "datum.value === 'Tryptamine' ? 'Tryptamine' : ['5-HT₄R', 'Antagonist']"}}},
       "layer": [
        {"mark": {"type": "bar", "stroke": "#222", "strokeWidth": 1}, "encoding": {"y": {"field": "value", "type": "quantitative", "title": "Δ/sc (μA/cm²)", "scale": {"domain": [-50, 150], "nice": false, "zero": false}, "axis": {"values": [-50, 0, 50, 100, 150], "tickSize": 3, "labelPadding": 1, "titlePadding": 3, "labelOverlap": false, "labelExpr": "toString(datum.value)"}}, "color": {"field": "cat", "type": "nominal", "scale": {"domain": ["Tryptamine", "5-HT₄R Antagonist"], "range": ["#1bb3b9", "#e5232a"]}, "legend": null}}},
        {"mark": {"type": "rule", "color": "#222", "strokeWidth": 1}, "encoding": {"y": {"field": "value", "type": "quantitative", "title": "Δ/sc (μA/cm²)", "axis": {"values": [-50, 0, 50, 100, 150], "tickSize": 3, "labelPadding": 1, "titlePadding": 3, "labelOverlap": false, "labelExpr": "toString(datum.value)"}}, "y2": {"field": "eb"}}},
        {"mark": {"type": "tick", "orient": "horizontal", "color": "#222", "size": 18, "thickness": 1}, "encoding": {"y": {"field": "eb", "type": "quantitative", "title": "Δ/sc (μA/cm²)", "axis": {"values": [-50, 0, 50, 100, 150], "tickSize": 3, "labelPadding": 1, "titlePadding": 3, "labelOverlap": false, "labelExpr": "toString(datum.value)"}}}},
        {"transform": [{"filter": "datum.sig"}], "mark": {"type": "text", "text": "*", "fontSize": 18, "fontWeight": "bold", "baseline": "alphabetic", "dy": 10, "color": "#111"}, "encoding": {"y": {"field": "star", "type": "quantitative", "title": "Δ/sc (μA/cm²)", "axis": {"values": [-50, 0, 50, 100, 150], "tickSize": 3, "labelPadding": 1, "titlePadding": 3, "labelOverlap": false, "labelExpr": "toString(datum.value)"}}}}
       ]}
     ]},
    {"title": {"text": "H", "fontSize": 14, "fontWeight": "bold", "anchor": "start", "frame": "bounds", "offset": 0, "dy": 13, "dx": 16},
     "resolve": {"scale": {"x": "independent", "y": "independent", "color": "independent", "shape": "independent"}, "axis": {"x": "independent", "y": "independent"}, "legend": {"color": "independent", "shape": "independent"}},
     "hconcat": [
      {"title": {"text": "Basolateral application", "fontSize": 13, "fontWeight": "normal", "anchor": "middle", "frame": "group", "offset": 11, "dx": 14},
       "width": 134, "height": 88,
       "data": {"name": "lines"},
       "transform": [{"filter": "datum.panel === 'H'"}],
       "encoding": {"x": {"field": "conc", "type": "quantitative", "scale": {"type": "log", "domain": [0.045, 10000], "nice": false}, "axis": {"title": ["Tryptamine", "(concentration in μM)"], "values": [1, 10, 100, 1000, 10000], "labelExpr": "toString(datum.value)", "offset": -22, "tickSize": 3, "labelPadding": 5, "labelFontSize": 8.5, "titlePadding": 2, "titleFontSize": 10, "titleLineHeight": 11, "labelFlush": false, "labelOverlap": false}}},
       "layer": [
        {"mark": {"type": "line", "strokeDash": [3, 2], "strokeWidth": 1.3}, "encoding": {"y": {"field": "value", "type": "quantitative", "title": "Δ/sc (μA/cm²)", "scale": {"domain": [-50, 150], "nice": false, "zero": false}, "axis": {"values": [-50, 0, 50, 100, 150], "tickSize": 3, "labelPadding": 1, "titlePadding": 3, "labelOverlap": false, "labelExpr": "toString(datum.value)"}}, "color": {"field": "series", "type": "nominal", "scale": {"domain": ["Tryptamine", "5-HT₄R Antagonist"], "range": ["#1bb3b9", "#e5232a"]}, "legend": {"orient": "none", "legendX": 21, "legendY": -11, "title": null, "padding": 0, "labelFontSize": 9, "labelColor": "#222", "labelOffset": 6, "rowPadding": 0, "symbolSize": 100, "symbolStrokeWidth": 1.3}}}},
        {"mark": {"type": "rule", "color": "#222", "strokeWidth": 1}, "encoding": {"y": {"field": "lo", "type": "quantitative", "title": "Δ/sc (μA/cm²)", "axis": {"values": [-50, 0, 50, 100, 150], "tickSize": 3, "labelPadding": 1, "titlePadding": 3, "labelOverlap": false, "labelExpr": "toString(datum.value)"}}, "y2": {"field": "hi"}}},
        {"mark": {"type": "tick", "orient": "horizontal", "color": "#222", "size": 6, "thickness": 1}, "encoding": {"y": {"field": "lo", "type": "quantitative", "title": "Δ/sc (μA/cm²)", "axis": {"values": [-50, 0, 50, 100, 150], "tickSize": 3, "labelPadding": 1, "titlePadding": 3, "labelOverlap": false, "labelExpr": "toString(datum.value)"}}}},
        {"mark": {"type": "tick", "orient": "horizontal", "color": "#222", "size": 6, "thickness": 1}, "encoding": {"y": {"field": "hi", "type": "quantitative", "title": "Δ/sc (μA/cm²)", "axis": {"values": [-50, 0, 50, 100, 150], "tickSize": 3, "labelPadding": 1, "titlePadding": 3, "labelOverlap": false, "labelExpr": "toString(datum.value)"}}}},
        {"transform": [{"filter": "datum.series !== 'Tryptamine'"}], "mark": {"type": "point", "shape": "square", "filled": true, "size": 34, "stroke": "#333", "strokeWidth": 0.8, "opacity": 1}, "encoding": {"y": {"field": "value", "type": "quantitative", "title": "Δ/sc (μA/cm²)", "axis": {"values": [-50, 0, 50, 100, 150], "tickSize": 3, "labelPadding": 1, "titlePadding": 3, "labelOverlap": false, "labelExpr": "toString(datum.value)"}}, "color": {"field": "series", "type": "nominal", "scale": {"domain": ["Tryptamine", "5-HT₄R Antagonist"], "range": ["#1bb3b9", "#e5232a"]}, "legend": {"orient": "none", "legendX": 21, "legendY": -11, "title": null, "padding": 0, "labelFontSize": 9, "labelColor": "#222", "labelOffset": 6, "rowPadding": 0, "symbolSize": 100, "symbolStrokeWidth": 1.3}}}},
        {"transform": [{"filter": "datum.series === 'Tryptamine'"}], "mark": {"type": "point", "shape": "circle", "filled": true, "size": 36, "stroke": "#333", "strokeWidth": 0.8, "opacity": 1}, "encoding": {"y": {"field": "value", "type": "quantitative", "title": "Δ/sc (μA/cm²)", "axis": {"values": [-50, 0, 50, 100, 150], "tickSize": 3, "labelPadding": 1, "titlePadding": 3, "labelOverlap": false, "labelExpr": "toString(datum.value)"}}, "color": {"field": "series", "type": "nominal", "scale": {"domain": ["Tryptamine", "5-HT₄R Antagonist"], "range": ["#1bb3b9", "#e5232a"]}, "legend": {"orient": "none", "legendX": 21, "legendY": -11, "title": null, "padding": 0, "labelFontSize": 9, "labelColor": "#222", "labelOffset": 6, "rowPadding": 0, "symbolSize": 100, "symbolStrokeWidth": 1.3}}}},
        {"transform": [{"filter": "false"}], "mark": {"type": "point", "filled": true, "opacity": 1}, "encoding": {"y": {"field": "value", "type": "quantitative", "title": "Δ/sc (μA/cm²)", "axis": {"values": [-50, 0, 50, 100, 150], "tickSize": 3, "labelPadding": 1, "titlePadding": 3, "labelOverlap": false, "labelExpr": "toString(datum.value)"}}, "color": {"field": "series", "type": "nominal", "scale": {"domain": ["Tryptamine", "5-HT₄R Antagonist"], "range": ["#1bb3b9", "#e5232a"]}, "legend": {"orient": "none", "legendX": 21, "legendY": -11, "title": null, "padding": 0, "labelFontSize": 9, "labelColor": "#222", "labelOffset": 6, "rowPadding": 0, "symbolSize": 100, "symbolStrokeWidth": 1.3}}, "shape": {"field": "series", "type": "nominal", "scale": {"domain": ["Tryptamine", "5-HT₄R Antagonist"], "range": ["M-1.6,0H-0.58M0.58,0H1.6M-0.58,0A0.58,0.58,0,1,1,0.58,0A0.58,0.58,0,1,1,-0.58,0Z", "M-1.6,0H-0.55M0.55,0H1.6M-0.55,-0.55H0.55V0.55H-0.55Z"]}, "legend": {"orient": "none", "legendX": 21, "legendY": -11, "title": null, "padding": 0, "labelFontSize": 9, "labelColor": "#222", "labelOffset": 6, "rowPadding": 0, "symbolSize": 100, "symbolStrokeWidth": 1.3}}}},
        {"transform": [{"filter": "datum.sig"}], "mark": {"type": "text", "text": "*", "fontSize": 18, "fontWeight": "bold", "baseline": "alphabetic", "dy": 10, "color": "#111"}, "encoding": {"y": {"field": "star", "type": "quantitative", "title": "Δ/sc (μA/cm²)", "axis": {"values": [-50, 0, 50, 100, 150], "tickSize": 3, "labelPadding": 1, "titlePadding": 3, "labelOverlap": false, "labelExpr": "toString(datum.value)"}}}}
       ]}
     ]}
   ]}
 ]},
 {"spacing": 28, "resolve": {"scale": {"x": "independent", "y": "independent", "color": "independent", "shape": "independent"}, "axis": {"x": "independent", "y": "independent"}, "legend": {"color": "independent", "shape": "independent"}},
  "hconcat": [
  {"title": {"text": "CR Male", "fontSize": 15, "fontWeight": "bold", "anchor": "middle", "offset": 20, "dx": -3},
   "spacing": 12, "resolve": {"scale": {"x": "independent", "y": "independent", "color": "independent", "shape": "independent"}, "axis": {"x": "independent", "y": "independent"}, "legend": {"color": "independent", "shape": "independent"}},
   "hconcat": [
    {"title": {"text": "I", "fontSize": 14, "fontWeight": "bold", "anchor": "start", "frame": "bounds", "offset": 0, "dy": 13, "dx": 22},
     "resolve": {"scale": {"x": "independent", "y": "independent", "color": "independent", "shape": "independent"}, "axis": {"x": "independent", "y": "independent"}, "legend": {"color": "independent", "shape": "independent"}},
     "hconcat": [
      {"title": {"text": "Apical application", "fontSize": 13, "fontWeight": "normal", "anchor": "middle", "frame": "group", "offset": 17, "dx": 0},
       "width": 126, "height": 88,
       "data": {"name": "bars"},
       "transform": [{"filter": "datum.panel === 'I'"}],
       "encoding": {"x": {"field": "cat", "type": "nominal", "scale": {"domain": ["Tryptamine", "5-HT₄R Antagonist"], "paddingInner": 0.39, "paddingOuter": 0.26}, "axis": {"title": null, "labelAngle": 0, "ticks": false, "offset": -22, "labelPadding": 11, "labelLineHeight": 11.5, "labelExpr": "datum.value === 'Tryptamine' ? 'Tryptamine' : ['5-HT₄R', 'Antagonist']"}}},
       "layer": [
        {"mark": {"type": "bar", "stroke": "#222", "strokeWidth": 1}, "encoding": {"y": {"field": "value", "type": "quantitative", "title": "Δ/sc (μA/cm²)", "scale": {"domain": [-50, 150], "nice": false, "zero": false}, "axis": {"values": [-50, 0, 50, 100, 150], "tickSize": 3, "labelPadding": 1, "titlePadding": 3, "labelOverlap": false, "labelExpr": "toString(datum.value)"}}, "color": {"field": "cat", "type": "nominal", "scale": {"domain": ["Tryptamine", "5-HT₄R Antagonist"], "range": ["#1bb3b9", "#e5232a"]}, "legend": null}}},
        {"mark": {"type": "rule", "color": "#222", "strokeWidth": 1}, "encoding": {"y": {"field": "value", "type": "quantitative", "title": "Δ/sc (μA/cm²)", "axis": {"values": [-50, 0, 50, 100, 150], "tickSize": 3, "labelPadding": 1, "titlePadding": 3, "labelOverlap": false, "labelExpr": "toString(datum.value)"}}, "y2": {"field": "eb"}}},
        {"mark": {"type": "tick", "orient": "horizontal", "color": "#222", "size": 18, "thickness": 1}, "encoding": {"y": {"field": "eb", "type": "quantitative", "title": "Δ/sc (μA/cm²)", "axis": {"values": [-50, 0, 50, 100, 150], "tickSize": 3, "labelPadding": 1, "titlePadding": 3, "labelOverlap": false, "labelExpr": "toString(datum.value)"}}}},
        {"transform": [{"filter": "datum.sig"}], "mark": {"type": "text", "text": "*", "fontSize": 18, "fontWeight": "bold", "baseline": "alphabetic", "dy": 10, "color": "#111"}, "encoding": {"y": {"field": "star", "type": "quantitative", "title": "Δ/sc (μA/cm²)", "axis": {"values": [-50, 0, 50, 100, 150], "tickSize": 3, "labelPadding": 1, "titlePadding": 3, "labelOverlap": false, "labelExpr": "toString(datum.value)"}}}}
       ]}
     ]},
    {"title": {"text": "J", "fontSize": 14, "fontWeight": "bold", "anchor": "start", "frame": "bounds", "offset": 0, "dy": 13, "dx": 41},
     "resolve": {"scale": {"x": "independent", "y": "independent", "color": "independent", "shape": "independent"}, "axis": {"x": "independent", "y": "independent"}, "legend": {"color": "independent", "shape": "independent"}},
     "hconcat": [
      {"title": {"text": "Basolateral application", "fontSize": 13, "fontWeight": "normal", "anchor": "middle", "frame": "group", "offset": 11, "dx": 20},
       "width": 134, "height": 88,
       "data": {"name": "lines"},
       "transform": [{"filter": "datum.panel === 'J'"}],
       "encoding": {"x": {"field": "conc", "type": "quantitative", "scale": {"type": "log", "domain": [0.045, 10000], "nice": false}, "axis": {"title": ["Tryptamine", "(concentration in μM)"], "values": [1, 10, 100, 1000, 10000], "labelExpr": "toString(datum.value)", "offset": -22, "tickSize": 3, "labelPadding": 5, "labelFontSize": 8.5, "titlePadding": 2, "titleFontSize": 10, "titleLineHeight": 11, "labelFlush": false, "labelOverlap": false}}},
       "layer": [
        {"mark": {"type": "line", "strokeDash": [3, 2], "strokeWidth": 1.3}, "encoding": {"y": {"field": "value", "type": "quantitative", "title": "Δ/sc (μA/cm²)", "scale": {"domain": [-50, 150], "nice": false, "zero": false}, "axis": {"values": [-50, 0, 50, 100, 150], "tickSize": 3, "labelPadding": 1, "titlePadding": 3, "labelOverlap": false, "labelExpr": "toString(datum.value)"}}, "color": {"field": "series", "type": "nominal", "scale": {"domain": ["Tryptamine", "5-HT₄R Antagonist"], "range": ["#1bb3b9", "#e5232a"]}, "legend": {"orient": "none", "legendX": 21, "legendY": -11, "title": null, "padding": 0, "labelFontSize": 9, "labelColor": "#222", "labelOffset": 6, "rowPadding": 0, "symbolSize": 100, "symbolStrokeWidth": 1.3}}}},
        {"mark": {"type": "rule", "color": "#222", "strokeWidth": 1}, "encoding": {"y": {"field": "lo", "type": "quantitative", "title": "Δ/sc (μA/cm²)", "axis": {"values": [-50, 0, 50, 100, 150], "tickSize": 3, "labelPadding": 1, "titlePadding": 3, "labelOverlap": false, "labelExpr": "toString(datum.value)"}}, "y2": {"field": "hi"}}},
        {"mark": {"type": "tick", "orient": "horizontal", "color": "#222", "size": 6, "thickness": 1}, "encoding": {"y": {"field": "lo", "type": "quantitative", "title": "Δ/sc (μA/cm²)", "axis": {"values": [-50, 0, 50, 100, 150], "tickSize": 3, "labelPadding": 1, "titlePadding": 3, "labelOverlap": false, "labelExpr": "toString(datum.value)"}}}},
        {"mark": {"type": "tick", "orient": "horizontal", "color": "#222", "size": 6, "thickness": 1}, "encoding": {"y": {"field": "hi", "type": "quantitative", "title": "Δ/sc (μA/cm²)", "axis": {"values": [-50, 0, 50, 100, 150], "tickSize": 3, "labelPadding": 1, "titlePadding": 3, "labelOverlap": false, "labelExpr": "toString(datum.value)"}}}},
        {"transform": [{"filter": "datum.series !== 'Tryptamine'"}], "mark": {"type": "point", "shape": "square", "filled": true, "size": 34, "stroke": "#333", "strokeWidth": 0.8, "opacity": 1}, "encoding": {"y": {"field": "value", "type": "quantitative", "title": "Δ/sc (μA/cm²)", "axis": {"values": [-50, 0, 50, 100, 150], "tickSize": 3, "labelPadding": 1, "titlePadding": 3, "labelOverlap": false, "labelExpr": "toString(datum.value)"}}, "color": {"field": "series", "type": "nominal", "scale": {"domain": ["Tryptamine", "5-HT₄R Antagonist"], "range": ["#1bb3b9", "#e5232a"]}, "legend": {"orient": "none", "legendX": 21, "legendY": -11, "title": null, "padding": 0, "labelFontSize": 9, "labelColor": "#222", "labelOffset": 6, "rowPadding": 0, "symbolSize": 100, "symbolStrokeWidth": 1.3}}}},
        {"transform": [{"filter": "datum.series === 'Tryptamine'"}], "mark": {"type": "point", "shape": "circle", "filled": true, "size": 36, "stroke": "#333", "strokeWidth": 0.8, "opacity": 1}, "encoding": {"y": {"field": "value", "type": "quantitative", "title": "Δ/sc (μA/cm²)", "axis": {"values": [-50, 0, 50, 100, 150], "tickSize": 3, "labelPadding": 1, "titlePadding": 3, "labelOverlap": false, "labelExpr": "toString(datum.value)"}}, "color": {"field": "series", "type": "nominal", "scale": {"domain": ["Tryptamine", "5-HT₄R Antagonist"], "range": ["#1bb3b9", "#e5232a"]}, "legend": {"orient": "none", "legendX": 21, "legendY": -11, "title": null, "padding": 0, "labelFontSize": 9, "labelColor": "#222", "labelOffset": 6, "rowPadding": 0, "symbolSize": 100, "symbolStrokeWidth": 1.3}}}},
        {"transform": [{"filter": "false"}], "mark": {"type": "point", "filled": true, "opacity": 1}, "encoding": {"y": {"field": "value", "type": "quantitative", "title": "Δ/sc (μA/cm²)", "axis": {"values": [-50, 0, 50, 100, 150], "tickSize": 3, "labelPadding": 1, "titlePadding": 3, "labelOverlap": false, "labelExpr": "toString(datum.value)"}}, "color": {"field": "series", "type": "nominal", "scale": {"domain": ["Tryptamine", "5-HT₄R Antagonist"], "range": ["#1bb3b9", "#e5232a"]}, "legend": {"orient": "none", "legendX": 21, "legendY": -11, "title": null, "padding": 0, "labelFontSize": 9, "labelColor": "#222", "labelOffset": 6, "rowPadding": 0, "symbolSize": 100, "symbolStrokeWidth": 1.3}}, "shape": {"field": "series", "type": "nominal", "scale": {"domain": ["Tryptamine", "5-HT₄R Antagonist"], "range": ["M-1.6,0H-0.58M0.58,0H1.6M-0.58,0A0.58,0.58,0,1,1,0.58,0A0.58,0.58,0,1,1,-0.58,0Z", "M-1.6,0H-0.55M0.55,0H1.6M-0.55,-0.55H0.55V0.55H-0.55Z"]}, "legend": {"orient": "none", "legendX": 21, "legendY": -11, "title": null, "padding": 0, "labelFontSize": 9, "labelColor": "#222", "labelOffset": 6, "rowPadding": 0, "symbolSize": 100, "symbolStrokeWidth": 1.3}}}},
        {"transform": [{"filter": "datum.sig"}], "mark": {"type": "text", "text": "*", "fontSize": 18, "fontWeight": "bold", "baseline": "alphabetic", "dy": 10, "color": "#111"}, "encoding": {"y": {"field": "star", "type": "quantitative", "title": "Δ/sc (μA/cm²)", "axis": {"values": [-50, 0, 50, 100, 150], "tickSize": 3, "labelPadding": 1, "titlePadding": 3, "labelOverlap": false, "labelExpr": "toString(datum.value)"}}}}
       ]}
     ]}
   ]},
  {"title": {"text": "CR Female", "fontSize": 15, "fontWeight": "bold", "anchor": "middle", "offset": 20, "dx": 5},
   "spacing": 24, "resolve": {"scale": {"x": "independent", "y": "independent", "color": "independent", "shape": "independent"}, "axis": {"x": "independent", "y": "independent"}, "legend": {"color": "independent", "shape": "independent"}},
   "hconcat": [
    {"title": {"text": "K", "fontSize": 14, "fontWeight": "bold", "anchor": "start", "frame": "bounds", "offset": 0, "dy": 13, "dx": 27},
     "resolve": {"scale": {"x": "independent", "y": "independent", "color": "independent", "shape": "independent"}, "axis": {"x": "independent", "y": "independent"}, "legend": {"color": "independent", "shape": "independent"}},
     "hconcat": [
      {"title": {"text": "Apical application", "fontSize": 13, "fontWeight": "normal", "anchor": "middle", "frame": "group", "offset": 17, "dx": 15},
       "width": 126, "height": 88,
       "data": {"name": "bars"},
       "transform": [{"filter": "datum.panel === 'K'"}],
       "encoding": {"x": {"field": "cat", "type": "nominal", "scale": {"domain": ["Tryptamine", "5-HT₄R Antagonist"], "paddingInner": 0.39, "paddingOuter": 0.26}, "axis": {"title": null, "labelAngle": 0, "ticks": false, "offset": -22, "labelPadding": 11, "labelLineHeight": 11.5, "labelExpr": "datum.value === 'Tryptamine' ? 'Tryptamine' : ['5-HT₄R', 'Antagonist']"}}},
       "layer": [
        {"mark": {"type": "bar", "stroke": "#222", "strokeWidth": 1}, "encoding": {"y": {"field": "value", "type": "quantitative", "title": "Δ/sc (μA/cm²)", "scale": {"domain": [-50, 150], "nice": false, "zero": false}, "axis": {"values": [-50, 0, 50, 100, 150], "tickSize": 3, "labelPadding": 1, "titlePadding": 3, "labelOverlap": false, "labelExpr": "toString(datum.value)"}}, "color": {"field": "cat", "type": "nominal", "scale": {"domain": ["Tryptamine", "5-HT₄R Antagonist"], "range": ["#1bb3b9", "#e5232a"]}, "legend": null}}},
        {"mark": {"type": "rule", "color": "#222", "strokeWidth": 1}, "encoding": {"y": {"field": "value", "type": "quantitative", "title": "Δ/sc (μA/cm²)", "axis": {"values": [-50, 0, 50, 100, 150], "tickSize": 3, "labelPadding": 1, "titlePadding": 3, "labelOverlap": false, "labelExpr": "toString(datum.value)"}}, "y2": {"field": "eb"}}},
        {"mark": {"type": "tick", "orient": "horizontal", "color": "#222", "size": 18, "thickness": 1}, "encoding": {"y": {"field": "eb", "type": "quantitative", "title": "Δ/sc (μA/cm²)", "axis": {"values": [-50, 0, 50, 100, 150], "tickSize": 3, "labelPadding": 1, "titlePadding": 3, "labelOverlap": false, "labelExpr": "toString(datum.value)"}}}},
        {"transform": [{"filter": "datum.sig"}], "mark": {"type": "text", "text": "*", "fontSize": 18, "fontWeight": "bold", "baseline": "alphabetic", "dy": 10, "color": "#111"}, "encoding": {"y": {"field": "star", "type": "quantitative", "title": "Δ/sc (μA/cm²)", "axis": {"values": [-50, 0, 50, 100, 150], "tickSize": 3, "labelPadding": 1, "titlePadding": 3, "labelOverlap": false, "labelExpr": "toString(datum.value)"}}}}
       ]}
     ]},
    {"title": {"text": "L", "fontSize": 14, "fontWeight": "bold", "anchor": "start", "frame": "bounds", "offset": 0, "dy": 13, "dx": 16},
     "resolve": {"scale": {"x": "independent", "y": "independent", "color": "independent", "shape": "independent"}, "axis": {"x": "independent", "y": "independent"}, "legend": {"color": "independent", "shape": "independent"}},
     "hconcat": [
      {"title": {"text": "Basolateral application", "fontSize": 13, "fontWeight": "normal", "anchor": "middle", "frame": "group", "offset": 11, "dx": 14},
       "width": 134, "height": 88,
       "data": {"name": "lines"},
       "transform": [{"filter": "datum.panel === 'L'"}],
       "encoding": {"x": {"field": "conc", "type": "quantitative", "scale": {"type": "log", "domain": [0.045, 10000], "nice": false}, "axis": {"title": ["Tryptamine", "(concentration in μM)"], "values": [1, 10, 100, 1000, 10000], "labelExpr": "toString(datum.value)", "offset": -22, "tickSize": 3, "labelPadding": 5, "labelFontSize": 8.5, "titlePadding": 2, "titleFontSize": 10, "titleLineHeight": 11, "labelFlush": false, "labelOverlap": false}}},
       "layer": [
        {"mark": {"type": "line", "strokeDash": [3, 2], "strokeWidth": 1.3}, "encoding": {"y": {"field": "value", "type": "quantitative", "title": "Δ/sc (μA/cm²)", "scale": {"domain": [-50, 150], "nice": false, "zero": false}, "axis": {"values": [-50, 0, 50, 100, 150], "tickSize": 3, "labelPadding": 1, "titlePadding": 3, "labelOverlap": false, "labelExpr": "toString(datum.value)"}}, "color": {"field": "series", "type": "nominal", "scale": {"domain": ["Tryptamine", "5-HT₄R Antagonist"], "range": ["#1bb3b9", "#e5232a"]}, "legend": {"orient": "none", "legendX": 21, "legendY": -11, "title": null, "padding": 0, "labelFontSize": 9, "labelColor": "#222", "labelOffset": 6, "rowPadding": 0, "symbolSize": 100, "symbolStrokeWidth": 1.3}}}},
        {"mark": {"type": "rule", "color": "#222", "strokeWidth": 1}, "encoding": {"y": {"field": "lo", "type": "quantitative", "title": "Δ/sc (μA/cm²)", "axis": {"values": [-50, 0, 50, 100, 150], "tickSize": 3, "labelPadding": 1, "titlePadding": 3, "labelOverlap": false, "labelExpr": "toString(datum.value)"}}, "y2": {"field": "hi"}}},
        {"mark": {"type": "tick", "orient": "horizontal", "color": "#222", "size": 6, "thickness": 1}, "encoding": {"y": {"field": "lo", "type": "quantitative", "title": "Δ/sc (μA/cm²)", "axis": {"values": [-50, 0, 50, 100, 150], "tickSize": 3, "labelPadding": 1, "titlePadding": 3, "labelOverlap": false, "labelExpr": "toString(datum.value)"}}}},
        {"mark": {"type": "tick", "orient": "horizontal", "color": "#222", "size": 6, "thickness": 1}, "encoding": {"y": {"field": "hi", "type": "quantitative", "title": "Δ/sc (μA/cm²)", "axis": {"values": [-50, 0, 50, 100, 150], "tickSize": 3, "labelPadding": 1, "titlePadding": 3, "labelOverlap": false, "labelExpr": "toString(datum.value)"}}}},
        {"transform": [{"filter": "datum.series !== 'Tryptamine'"}], "mark": {"type": "point", "shape": "square", "filled": true, "size": 34, "stroke": "#333", "strokeWidth": 0.8, "opacity": 1}, "encoding": {"y": {"field": "value", "type": "quantitative", "title": "Δ/sc (μA/cm²)", "axis": {"values": [-50, 0, 50, 100, 150], "tickSize": 3, "labelPadding": 1, "titlePadding": 3, "labelOverlap": false, "labelExpr": "toString(datum.value)"}}, "color": {"field": "series", "type": "nominal", "scale": {"domain": ["Tryptamine", "5-HT₄R Antagonist"], "range": ["#1bb3b9", "#e5232a"]}, "legend": {"orient": "none", "legendX": 21, "legendY": -11, "title": null, "padding": 0, "labelFontSize": 9, "labelColor": "#222", "labelOffset": 6, "rowPadding": 0, "symbolSize": 100, "symbolStrokeWidth": 1.3}}}},
        {"transform": [{"filter": "datum.series === 'Tryptamine'"}], "mark": {"type": "point", "shape": "circle", "filled": true, "size": 36, "stroke": "#333", "strokeWidth": 0.8, "opacity": 1}, "encoding": {"y": {"field": "value", "type": "quantitative", "title": "Δ/sc (μA/cm²)", "axis": {"values": [-50, 0, 50, 100, 150], "tickSize": 3, "labelPadding": 1, "titlePadding": 3, "labelOverlap": false, "labelExpr": "toString(datum.value)"}}, "color": {"field": "series", "type": "nominal", "scale": {"domain": ["Tryptamine", "5-HT₄R Antagonist"], "range": ["#1bb3b9", "#e5232a"]}, "legend": {"orient": "none", "legendX": 21, "legendY": -11, "title": null, "padding": 0, "labelFontSize": 9, "labelColor": "#222", "labelOffset": 6, "rowPadding": 0, "symbolSize": 100, "symbolStrokeWidth": 1.3}}}},
        {"transform": [{"filter": "false"}], "mark": {"type": "point", "filled": true, "opacity": 1}, "encoding": {"y": {"field": "value", "type": "quantitative", "title": "Δ/sc (μA/cm²)", "axis": {"values": [-50, 0, 50, 100, 150], "tickSize": 3, "labelPadding": 1, "titlePadding": 3, "labelOverlap": false, "labelExpr": "toString(datum.value)"}}, "color": {"field": "series", "type": "nominal", "scale": {"domain": ["Tryptamine", "5-HT₄R Antagonist"], "range": ["#1bb3b9", "#e5232a"]}, "legend": {"orient": "none", "legendX": 21, "legendY": -11, "title": null, "padding": 0, "labelFontSize": 9, "labelColor": "#222", "labelOffset": 6, "rowPadding": 0, "symbolSize": 100, "symbolStrokeWidth": 1.3}}, "shape": {"field": "series", "type": "nominal", "scale": {"domain": ["Tryptamine", "5-HT₄R Antagonist"], "range": ["M-1.6,0H-0.58M0.58,0H1.6M-0.58,0A0.58,0.58,0,1,1,0.58,0A0.58,0.58,0,1,1,-0.58,0Z", "M-1.6,0H-0.55M0.55,0H1.6M-0.55,-0.55H0.55V0.55H-0.55Z"]}, "legend": {"orient": "none", "legendX": 21, "legendY": -11, "title": null, "padding": 0, "labelFontSize": 9, "labelColor": "#222", "labelOffset": 6, "rowPadding": 0, "symbolSize": 100, "symbolStrokeWidth": 1.3}}}},
        {"transform": [{"filter": "datum.sig"}], "mark": {"type": "text", "text": "*", "fontSize": 18, "fontWeight": "bold", "baseline": "alphabetic", "dy": 10, "color": "#111"}, "encoding": {"y": {"field": "star", "type": "quantitative", "title": "Δ/sc (μA/cm²)", "axis": {"values": [-50, 0, 50, 100, 150], "tickSize": 3, "labelPadding": 1, "titlePadding": 3, "labelOverlap": false, "labelExpr": "toString(datum.value)"}}}}
       ]}
     ]}
   ]}
 ]}
 ]}
]
}
